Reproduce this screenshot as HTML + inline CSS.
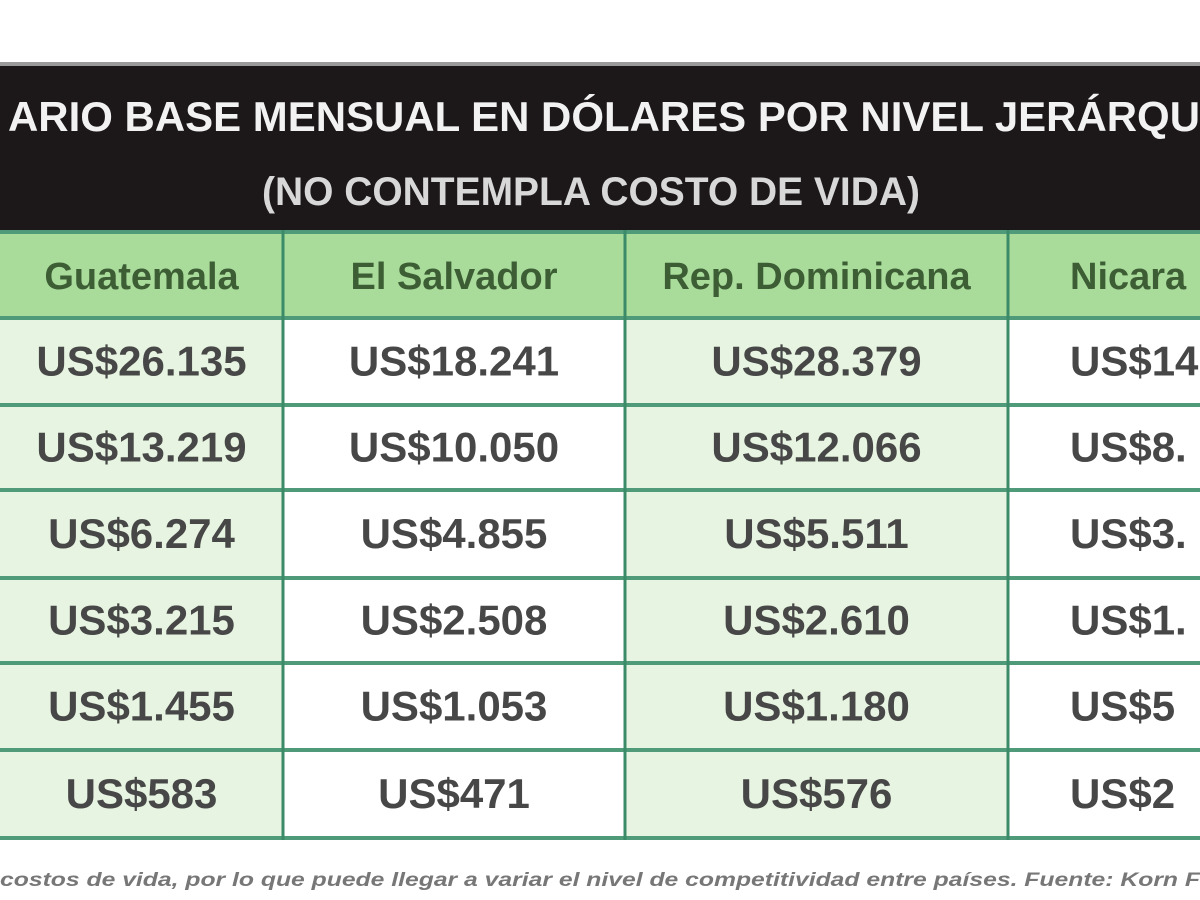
<!DOCTYPE html>
<html><head><meta charset="utf-8"><style>
html,body{margin:0;padding:0;background:#fff;width:1200px;height:900px;overflow:hidden}
svg{display:block}
text{font-family:"Liberation Sans Narrow","Liberation Sans",sans-serif;font-weight:bold}
</style></head><body>
<svg id="t" width="1200" height="900" viewBox="0 0 1200 900">
<rect x="0" y="62" width="1200" height="4" fill="#9a9a9a"/>
<rect x="0" y="66" width="1200" height="164" fill="#1c1718"/>
<text x="8" y="131" font-size="42" fill="#f2f2f2" textLength="1192" lengthAdjust="spacingAndGlyphs">ARIO BASE MENSUAL EN DÓLARES POR NIVEL JERÁRQU</text>
<text x="262" y="205" font-size="40" fill="#d8d8d8" font-weight="normal" textLength="658" lengthAdjust="spacingAndGlyphs">(NO CONTEMPLA COSTO DE VIDA)</text>
<g id="body"></g>
<text x="0" y="886" font-size="19" fill="#777" font-style="italic" font-weight="normal" textLength="1200" lengthAdjust="spacingAndGlyphs">costos de vida, por lo que puede llegar a variar el nivel de competitividad entre países. Fuente: Korn F</text>
</svg>
<script>
const countries=["Guatemala","El Salvador","Rep. Dominicana","Nicara"];
const guatemala=["US$26.135","US$13.219","US$6.274","US$3.215","US$1.455","US$583"];
const elSalvador=["US$18.241","US$10.050","US$4.855","US$2.508","US$1.053","US$471"];
const repDominicana=["US$28.379","US$12.066","US$5.511","US$2.610","US$1.180","US$576"];
const nicaragua=["US$14","US$8.","US$3.","US$1.","US$5","US$2"];
const cols=[guatemala,elSalvador,repDominicana,nicaragua];
const colX=[0,283,625,1008,1200];
const rowY=[232,318,405,490,578,663,750,838];
const ns="http://www.w3.org/2000/svg";
const g=document.getElementById("body");
function mk(tag,attrs){const e=document.createElementNS(ns,tag);for(const k in attrs)e.setAttribute(k,attrs[k]);g.appendChild(e);return e;}
for(let c=0;c<4;c++){
  for(let r=0;r<7;r++){
    const fill=r===0?"#a9dc9b":(c%2===0?"#e7f4e1":"#ffffff");
    const rc=mk("rect",{x:colX[c],y:rowY[r],width:colX[c+1]-colX[c],height:rowY[r+1]-rowY[r],fill:fill});
    
    
    const label=r===0?countries[c]:cols[c][r-1];
    const cx=c===3?1070:(colX[c]+colX[c+1])/2;
    const t=mk("text",{x:cx,y:(rowY[r]+rowY[r+1])/2+14,"font-size":r===0?38:42,fill:r===0?"#3d5e35":"#474747","text-anchor":c===3?"start":"middle","font-weight":r===0?"normal":"bold"});
    t.textContent=label;
    
    
  }
}
for(const y of rowY){
  const l=mk("rect",{x:0,y:y-2,width:1200,height:4,fill:"#4f9a78"});
  
  
}
for(const x of colX.slice(1,4)){
  const l=mk("rect",{x:x-1.5,y:230,width:3,height:610,fill:"#3b8a68"});
  
  
}
</script>
</body></html>
